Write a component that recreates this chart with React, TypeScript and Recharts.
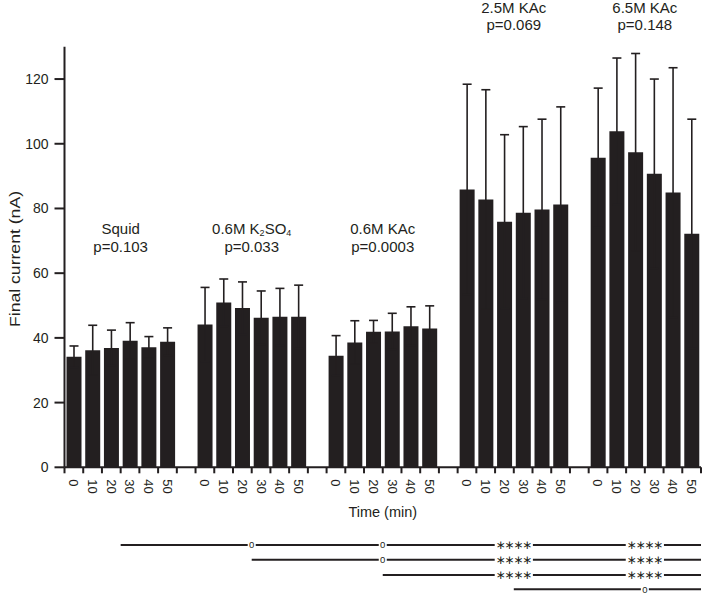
import React from 'react';
import { BarChart, Bar, XAxis, YAxis, ErrorBar, ReferenceLine, ReferenceDot, Label } from 'recharts';

// ---------- data ----------
const times = ['0', '10', '20', '30', '40', '50'];
const groupNames = ['Squid', '0.6M K2SO4', '0.6M KAc', '2.5M KAc', '6.5M KAc'];
const pValues = ['p=0.103', 'p=0.033', 'p=0.0003', 'p=0.069', 'p=0.148'];

const squidMean = [34.2, 36.2, 36.9, 39.1, 37.1, 38.8];
const squidErr = [3.3, 7.7, 5.5, 5.6, 3.3, 4.3];
const k2so4Mean = [44.1, 50.9, 49.2, 46.2, 46.5, 46.5];
const k2so4Err = [11.5, 7.3, 8.1, 8.3, 8.8, 9.8];
const kac06Mean = [34.5, 38.6, 41.9, 42.0, 43.6, 42.9];
const kac06Err = [6.2, 6.7, 3.5, 5.6, 6.0, 7.0];
const kac25Mean = [85.9, 82.8, 75.9, 78.7, 79.7, 81.2];
const kac25Err = [32.5, 33.9, 26.9, 26.6, 27.9, 30.2];
const kac65Mean = [95.7, 103.9, 97.4, 90.7, 84.9, 72.2];
const kac65Err = [21.5, 22.6, 30.5, 29.3, 38.6, 35.4];

const yTicks = [0, 20, 40, 60, 80, 100, 120];

// group label heights (in y units)
const groupLabelLevels = [70.8, 70.8, 70.8, 139.3, 139.3];

// pairwise comparison rows below the chart
const comparisonFrom = [0, 1, 2, 3];
const comparisonMarks = [
  ['0', '0', '****', '****'],
  ['0', '****', '****'],
  ['****', '****'],
  ['0'],
];
const comparisonLevels = [-24.0, -28.6, -33.3, -37.7];

// ---------- table built from the arrays ----------
const means = [squidMean, k2so4Mean, kac06Mean, kac25Mean, kac65Mean];
const errs = [squidErr, k2so4Err, kac06Err, kac25Err, kac65Err];

type Row = { key: string; time: string; slot: number; mean: number | null; err: number | null };
const rows: Row[] = [];
groupNames.forEach((g, gi) => {
  times.forEach((t, ti) =>
    rows.push({ key: `${gi}-${t}`, time: t, slot: rows.length + 0.5, mean: means[gi][ti], err: errs[gi][ti] })
  );
  if (gi < groupNames.length - 1) rows.push({ key: `gap${gi}`, time: '', slot: rows.length + 0.5, mean: null, err: null });
});
const timeByKey: Record<string, string> = {};
rows.forEach((r) => (timeByKey[r.key] = r.time));
const slotsPerGroup = times.length + 1;
const groupCenter = (g: number) => g * slotsPerGroup + times.length / 2;
const totalSlots = rows.length;

const INK = '#231f20';
const FONT = '"Liberation Sans", Arial, Helvetica, sans-serif';
const X_TICK_SIZE = 6;
const X_TICK_MARGIN = 6;

const XTick = (props: any) => {
  const { x, y, payload, index } = props;
  const half = payload && payload.offset != null ? payload.offset : 9.33;
  const y0 = y - X_TICK_SIZE - X_TICK_MARGIN;
  const label = timeByKey[payload.value];
  return (
    <g>
      <line x1={x - half} x2={x - half} y1={y0} y2={y0 + X_TICK_SIZE} stroke={INK} strokeWidth={2} />
      {index === totalSlots - 1 && (
        <line x1={x + half} x2={x + half} y1={y0} y2={y0 + X_TICK_SIZE} stroke={INK} strokeWidth={2} />
      )}
      {label ? (
        <text
          transform={`translate(${x},${y}) rotate(90)`}
          dy="0.35em"
          textAnchor="start"
          fontSize={13}
          fontFamily={FONT}
          fill={INK}
        >
          {label}
        </text>
      ) : null}
    </g>
  );
};

const renderGroupName = (name: string) => {
  if (name.includes('K2SO4')) {
    return (
      <>
        0.6M K
        <tspan dy={2} fontSize={9}>2</tspan>
        <tspan dy={-2}>SO</tspan>
        <tspan dy={2} fontSize={9}>4</tspan>
      </>
    );
  }
  return name;
};

const makeGroupLabel = (gi: number) => (p: any) => {
  const vb = p.viewBox || {};
  const cx = (vb.x || 0) + (vb.width || 0) / 2;
  const cy = (vb.y || 0) + (vb.height || 0) / 2;
  return (
    <g fontFamily={FONT} fontSize={15} fill={INK}>
      <text x={cx} y={cy - 9.2} dy="0.35em" textAnchor="middle">
        {renderGroupName(groupNames[gi])}
      </text>
      <text x={cx} y={cy + 8.3} dy="0.35em" textAnchor="middle">
        {pValues[gi]}
      </text>
    </g>
  );
};

const makeMarkLabel = (mark: string) => (p: any) => {
  const vb = p.viewBox || {};
  const cx = (vb.x || 0) + (vb.width || 0) / 2;
  const cy = (vb.y || 0) + (vb.height || 0) / 2;
  const isStar = mark.includes('*');
  const n = mark.length;
  const step = 8.8;
  const w = isStar ? 3 + n * step : 8;
  return (
    <g>
      <rect x={cx - w / 2} y={cy - 4} width={w} height={8} fill="#ffffff" />
      {isStar ? (
        Array.from({ length: n }).map((_, i) => (
          <text
            key={i}
            x={cx + (i - (n - 1) / 2) * step}
            y={cy}
            dy="0.36em"
            textAnchor="middle"
            fontSize={12}
            fontFamily='"DejaVu Sans", sans-serif'
            fill={INK}
          >
            {'\u2217'}
          </text>
        ))
      ) : (
        <text x={cx} y={cy} dy="0.35em" textAnchor="middle" fontSize={9.5} fontFamily={FONT} fill={INK}>
          {mark}
        </text>
      )}
    </g>
  );
};

export default function App() {
  return (
    <div style={{ position: 'absolute', left: 0, top: 0, width: 702, height: 598, background: '#fff', fontFamily: FONT }}>
      <BarChart
        width={702}
        height={598}
        data={rows}
        margin={{ top: 46.7, right: 1, bottom: 74.7, left: 0 }}
        barSize={15}
      >
        <XAxis
          xAxisId="cat"
          dataKey="key"
          interval={0}
          tickLine={false}
          tickSize={X_TICK_SIZE}
          tickMargin={X_TICK_MARGIN}
          height={56}
          axisLine={{ stroke: INK, strokeWidth: 2 }}
          tick={XTick}
        >
          <Label
            content={(p: any) => {
              const vb = p.viewBox || {};
              return (
                <text
                  x={vb.x + vb.width / 2}
                  y={vb.y + 50}
                  textAnchor="middle"
                  fontSize={14.5}
                  fontFamily={FONT}
                  fill={INK}
                >
                  Time (min)
                </text>
              );
            }}
          />
        </XAxis>
        <XAxis
          xAxisId="pos"
          dataKey="slot"
          type="number"
          scale="linear"
          domain={[0, totalSlots]}
          allowDataOverflow
          padding={{ left: 0, right: 0 }}
          hide
        />
        <YAxis
          width={64.5}
          domain={[0, 130]}
          ticks={yTicks}
          interval={0}
          tickSize={10}
          tickMargin={6}
          axisLine={{ stroke: INK, strokeWidth: 2 }}
          tickLine={{ stroke: INK, strokeWidth: 2 }}
          tick={{ fill: INK, fontSize: 14, fontFamily: FONT }}
        >
          <Label
            content={(p: any) => {
              const vb = p.viewBox || {};
              const cy = vb.y + vb.height / 2 + 2;
              return (
                <text
                  transform={`translate(15,${cy}) rotate(-90)`}
                  dy="0.35em"
                  textAnchor="middle"
                  fontSize={15.5}
                  fontFamily={FONT}
                  fill={INK}
                  textLength={136}
                  lengthAdjust="spacingAndGlyphs"
                >
                  Final current (nA)
                </text>
              );
            }}
          />
        </YAxis>
        <Bar xAxisId="cat" dataKey="mean" fill={INK} isAnimationActive={false}>
          <ErrorBar dataKey="err" width={4.5} stroke={INK} strokeWidth={1.6} direction="y" />
        </Bar>

        {groupNames.map((g, gi) => (
          <ReferenceDot
            key={`gl${gi}`}
            xAxisId="pos"
            x={groupCenter(gi)}
            y={groupLabelLevels[gi]}
            r={0}
            fill="none"
            stroke="none"
            ifOverflow="visible"
            label={{ content: makeGroupLabel(gi) }}
          />
        ))}

        {comparisonFrom.map((from, ri) => (
          <ReferenceLine
            key={`cl${ri}`}
            xAxisId="pos"
            segment={[
              { x: groupCenter(from), y: comparisonLevels[ri] },
              { x: totalSlots, y: comparisonLevels[ri] },
            ]}
            stroke={INK}
            strokeWidth={2}
            ifOverflow="visible"
          />
        ))}
        {comparisonFrom.map((from, ri) =>
          comparisonMarks[ri].map((m, mi) => (
            <ReferenceDot
              key={`cm${ri}-${mi}`}
              xAxisId="pos"
              x={groupCenter(from + 1 + mi)}
              y={comparisonLevels[ri]}
              r={0}
              fill="none"
              stroke="none"
              ifOverflow="visible"
              label={{ content: makeMarkLabel(m) }}
            />
          ))
        )}
      </BarChart>
    </div>
  );
}
